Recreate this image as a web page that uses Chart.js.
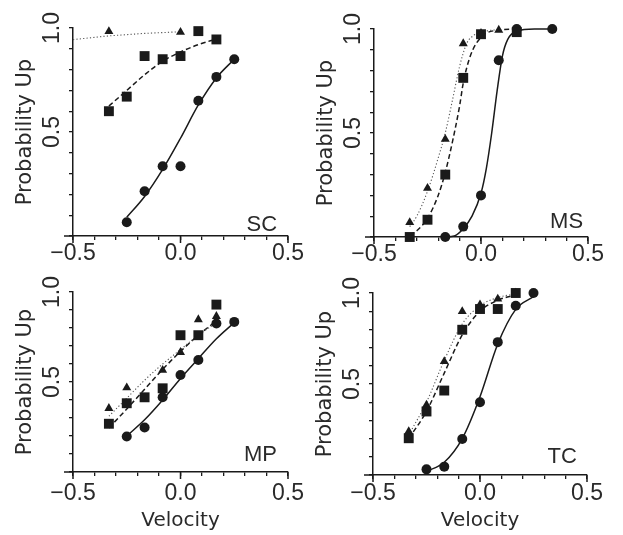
<!DOCTYPE html>
<html>
<head>
<meta charset="utf-8">
<script src="https://cdn.jsdelivr.net/npm/chart.js@4.4.1/dist/chart.umd.min.js"></script>
<style>
  html, body { margin: 0; padding: 0; background: #fff; }
  #wrap { position: relative; width: 623px; height: 535px; overflow: hidden; }
  #wrap canvas { position: absolute; }
</style>
</head>
<body>
<div id="wrap"></div>
<script>
// tick labels
const xTickVals = [-0.5, 0, 0.5];
const xTickText = ['\u22120.5', '0.0', '0.5'];
const yTickVals = [0.5, 1];
const yTickText = ['0.5', '1.0'];

// SC
const scTriangles = [[-0.333, 0.984], [0, 0.98]];
const scSquares = [[-0.333, 0.60], [-0.25, 0.67], [-0.167, 0.865], [-0.083, 0.85], [0, 0.865], [0.083, 0.985], [0.167, 0.945]];
const scCircles = [[-0.25, 0.066], [-0.167, 0.215], [-0.083, 0.335], [0, 0.335], [0.083, 0.65], [0.167, 0.765], [0.25, 0.85]];
const scDotted = [[-0.5, 0.944], [-0.4, 0.955], [-0.333, 0.962], [-0.25, 0.968], [-0.167, 0.974], [-0.083, 0.978], [0, 0.982]];
const scDashed = [[-0.333, 0.625], [-0.25, 0.70], [-0.167, 0.775], [-0.083, 0.84], [0, 0.885], [0.083, 0.92], [0.167, 0.947]];
const scSolid = [[-0.25, 0.09], [-0.167, 0.19], [-0.083, 0.32], [0, 0.47], [0.083, 0.63], [0.167, 0.76], [0.25, 0.85]];

// MS
const msTriangles = [[-0.333, 0.07], [-0.25, 0.235], [-0.167, 0.47], [-0.083, 0.93], [0, 0.98], [0.083, 0.995]];
const msSquares = [[-0.333, 0.0], [-0.25, 0.083], [-0.167, 0.30], [-0.083, 0.765], [0, 0.975], [0.167, 0.985]];
const msCircles = [[-0.167, 0.0], [-0.083, 0.05], [0, 0.2], [0.083, 0.85], [0.167, 1.0], [0.333, 1.0]];
const msDotted = [[-0.333, 0.05], [-0.3, 0.1], [-0.25, 0.22], [-0.2, 0.38], [-0.167, 0.5], [-0.133, 0.66], [-0.1, 0.82], [-0.067, 0.93], [-0.033, 0.97], [0, 0.985], [0.083, 0.998]];
const msDashed = [[-0.333, 0.01], [-0.3, 0.03], [-0.25, 0.09], [-0.2, 0.2], [-0.167, 0.31], [-0.133, 0.46], [-0.1, 0.63], [-0.083, 0.74], [-0.05, 0.87], [0, 0.96], [0.083, 0.995], [0.167, 1.0]];
const msSolid = [[-0.167, 0.0], [-0.125, 0.005], [-0.083, 0.04], [-0.042, 0.1], [0, 0.21], [0.025, 0.33], [0.05, 0.5], [0.075, 0.7], [0.1, 0.87], [0.125, 0.95], [0.167, 0.99], [0.25, 1.0], [0.333, 1.0]];

// MP
const mpTriangles = [[-0.333, 0.354], [-0.25, 0.468], [-0.083, 0.566], [0, 0.665], [0.083, 0.847], [0.167, 0.865]];
const mpSquares = [[-0.333, 0.268], [-0.25, 0.382], [-0.167, 0.415], [-0.083, 0.465], [0, 0.76], [0.083, 0.76], [0.167, 0.93]];
const mpCircles = [[-0.25, 0.197], [-0.167, 0.247], [-0.083, 0.415], [0, 0.539], [0.083, 0.622], [0.167, 0.825], [0.25, 0.834]];
const mpDotted = [[-0.333, 0.31], [-0.25, 0.41], [-0.167, 0.51], [-0.083, 0.60], [0, 0.68], [0.083, 0.76], [0.167, 0.83]];
const mpDashed = [[-0.333, 0.245], [-0.25, 0.35], [-0.167, 0.46], [-0.083, 0.57], [0, 0.67], [0.083, 0.76], [0.167, 0.84]];
const mpSolid = [[-0.25, 0.2], [-0.167, 0.29], [-0.083, 0.40], [0, 0.52], [0.083, 0.63], [0.167, 0.74], [0.25, 0.83]];

// TC
const tcTriangles = [[-0.333, 0.239], [-0.25, 0.385], [-0.167, 0.624], [-0.083, 0.899], [0, 0.936], [0.083, 0.967], [0.167, 1.0]];
const tcSquares = [[-0.333, 0.202], [-0.25, 0.349], [-0.167, 0.464], [-0.083, 0.798], [0, 0.912], [0.083, 0.912], [0.167, 1.0]];
const tcCircles = [[-0.25, 0.031], [-0.167, 0.046], [-0.083, 0.198], [0, 0.40], [0.083, 0.73], [0.167, 0.93], [0.25, 1.0]];
const tcDotted = [[-0.333, 0.22], [-0.25, 0.40], [-0.167, 0.63], [-0.083, 0.83], [0, 0.93], [0.083, 0.975], [0.167, 0.995]];
const tcDashed = [[-0.333, 0.20], [-0.25, 0.35], [-0.167, 0.56], [-0.083, 0.77], [0, 0.90], [0.083, 0.96], [0.167, 0.99]];
const tcSolid = [[-0.25, 0.02], [-0.167, 0.07], [-0.083, 0.20], [0, 0.43], [0.083, 0.72], [0.167, 0.91], [0.25, 0.98]];

const panels = [
  { name: 'SC', area: [73, 288, 28, 236], tag: [0.449, 0.024], velocity: false, tickPad: 0,
    tri: scTriangles, sq: scSquares, cir: scCircles, dot: scDotted, dash: scDashed, solid: scSolid },
  { name: 'MS', area: [374, 588, 29, 237], tag: [0.477, 0.043], velocity: false, tickPad: 0,
    tri: msTriangles, sq: msSquares, cir: msCircles, dot: msDotted, dash: msDashed, solid: msSolid },
  { name: 'MP', area: [73, 288, 292, 472], tag: [0.449, 0.061], velocity: true, tickPad: 4,
    tri: mpTriangles, sq: mpSquares, cir: mpCircles, dot: mpDotted, dash: mpDashed, solid: mpSolid },
  { name: 'TC', area: [373, 587, 293, 475], tag: [0.453, 0.066], velocity: true, tickPad: 1,
    tri: tcTriangles, sq: tcSquares, cir: tcCircles, dot: tcDotted, dash: tcDashed, solid: tcSolid }
];

const ink = '#1a1a1a';
const textInk = '#2a2a2a';
const yAxisW = 73;
const padT = 30, padR = 30;

const toXY = arr => arr.map(([x, y]) => ({ x, y }));

const decor = {
  id: 'decor',
  afterDraw(chart, args, opts) {
    const { ctx, chartArea: a, scales: { x, y } } = chart;
    ctx.save();
    ctx.strokeStyle = ink;
    ctx.lineWidth = 1.5;
    ctx.beginPath();
    ctx.moveTo(a.left - 9, a.bottom);
    ctx.lineTo(a.left, a.bottom);
    xTickVals.forEach(v => {
      const px = x.getPixelForValue(v);
      ctx.moveTo(px, a.bottom);
      ctx.lineTo(px, a.bottom + 7);
    });
    ctx.stroke();
    ctx.fillStyle = textInk;
    ctx.font = '22px "Liberation Sans"';
    ctx.textAlign = 'right';
    ctx.textBaseline = 'alphabetic';
    ctx.fillText(opts.name, x.getPixelForValue(opts.tag[0]), y.getPixelForValue(opts.tag[1]));
    ctx.restore();
  }
};

const wrap = document.getElementById('wrap');

panels.forEach(p => {
  const [L, R, T, B] = p.area;
  const cv = document.createElement('canvas');
  const left = L - yAxisW, top = T - padT;
  const w = yAxisW + (R - L) + padR;
  const h = p.velocity ? 535 - top : padT + (B - T) + 34;
  cv.width = w; cv.height = h;
  cv.style.left = left + 'px';
  cv.style.top = top + 'px';
  cv.style.width = w + 'px';
  cv.style.height = h + 'px';
  wrap.appendChild(cv);
  const xAxisH = h - padT - (B - T);

  const markers = (data, style, radius) => ({
    data: toXY(data), showLine: false, pointStyle: style, pointRadius: radius,
    pointBackgroundColor: ink, pointBorderColor: ink, pointBorderWidth: 0, clip: false
  });
  const curve = (data, dash, width, color) => ({
    data: toXY(data), showLine: true, pointRadius: 0, borderColor: color, borderWidth: width,
    borderDash: dash, cubicInterpolationMode: 'monotone', fill: false, clip: false
  });

  new Chart(cv, {
    type: 'scatter',
    data: {
      datasets: [
        markers(p.tri, 'triangle', 5.2),
        markers(p.sq, 'rect', 7),
        markers(p.cir, 'circle', 5),
        curve(p.dot, [1.2, 2.2], 1.1, '#555'),
        curve(p.dash, [5, 3], 1.5, ink),
        curve(p.solid, [], 1.5, ink)
      ]
    },
    plugins: [decor],
    options: {
      responsive: false,
      devicePixelRatio: 1,
      animation: false,
      events: [],
      layout: { padding: { left: 0, right: padR, top: padT, bottom: 0 } },
      plugins: {
        legend: { display: false },
        tooltip: { enabled: false },
        decor: { name: p.name, tag: p.tag }
      },
      scales: {
        x: {
          type: 'linear', min: -0.5, max: 0.5,
          afterFit: s => { s.height = xAxisH; },
          border: { display: true, color: ink, width: 1.5 },
          grid: { drawOnChartArea: false, drawTicks: true, tickLength: 4, color: ink, lineWidth: 1.3 },
          ticks: {
            stepSize: 0.1, autoSkip: false, minRotation: 0, maxRotation: 0, padding: p.tickPad,
            color: textInk, font: { family: 'Liberation Sans', size: 23 },
            callback: v => {
              const i = xTickVals.findIndex(t => Math.abs(t - v) < 1e-6);
              return i >= 0 ? xTickText[i] : '';
            }
          },
          title: {
            display: p.velocity, text: 'Velocity', color: textInk,
            font: { family: 'DejaVu Sans', size: 20 }, padding: { top: 0, bottom: 2 }
          }
        },
        y: {
          type: 'linear', min: 0, max: 1,
          afterFit: s => { s.width = yAxisW; },
          border: { display: true, color: ink, width: 1.5 },
          grid: { drawOnChartArea: false, drawTicks: true, tickLength: 4, color: ink, lineWidth: 1.3 },
          ticks: {
            stepSize: 0.1, autoSkip: false, minRotation: 90, maxRotation: 90,
            crossAlign: 'center', padding: 0,
            color: textInk, font: { family: 'Liberation Sans', size: 23 },
            callback: v => {
              const i = yTickVals.findIndex(t => Math.abs(t - v) < 1e-6);
              return i >= 0 ? yTickText[i] : '';
            }
          },
          title: {
            display: true, text: 'Probability Up', color: textInk,
            font: { family: 'DejaVu Sans', size: 21 }, padding: { top: 13, bottom: 0 }
          }
        }
      }
    }
  });
});
</script>
</body>
</html>
